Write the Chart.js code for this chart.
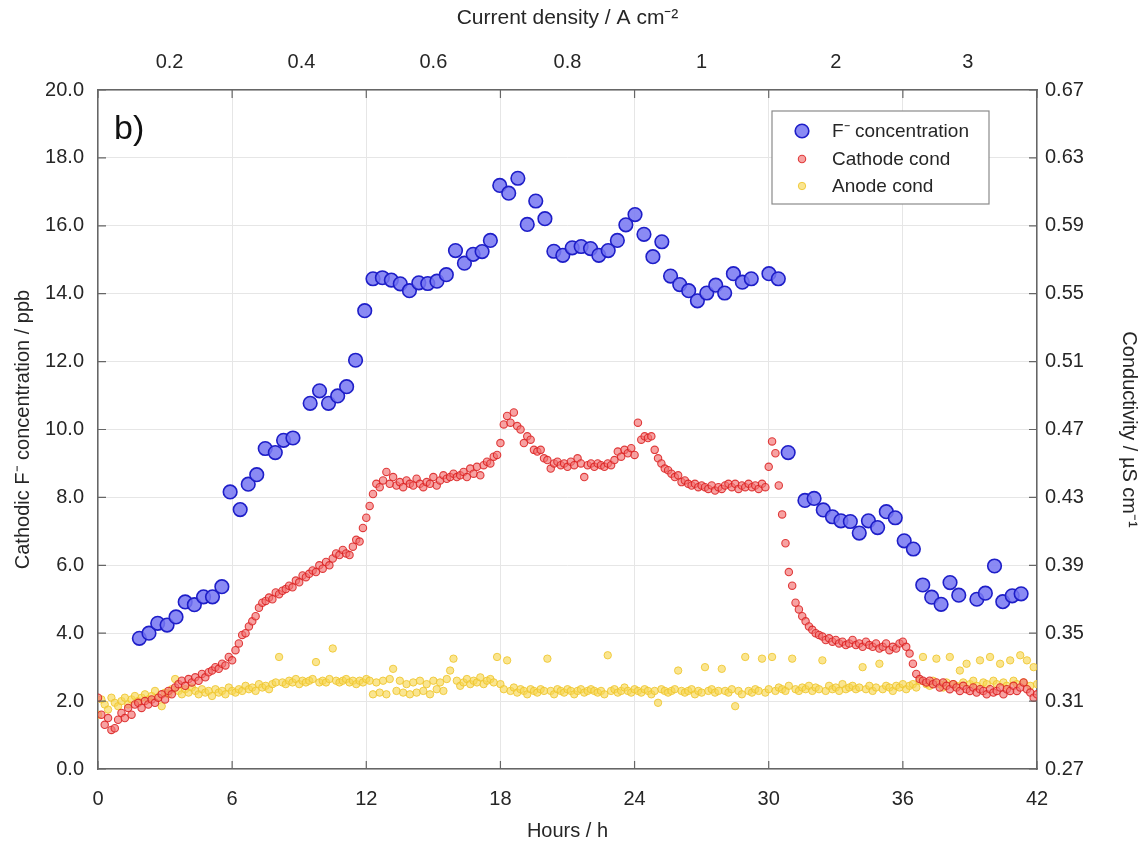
<!DOCTYPE html>
<html>
<head>
<meta charset="utf-8">
<script src="https://cdn.jsdelivr.net/npm/chart.js@4.4.1/dist/chart.umd.min.js"></script>
<style>
  html, body { margin: 0; padding: 0; background: #fff; }
  #wrap { width: 1145px; height: 847px; }
</style>
</head>
<body>
<div id="wrap"><canvas id="chart"></canvas></div>
<script>
// F- concentration (ppb)
const fluorideHours = [1.85, 2.28, 2.67, 3.09, 3.49, 3.9, 4.31, 4.72, 5.12, 5.54, 5.91, 6.36, 6.72, 7.1,
  7.48, 7.93, 8.3, 8.72, 9.49, 9.91, 10.31, 10.72, 11.12, 11.52, 11.93, 12.3, 12.72, 13.12, 13.52,
  13.93, 14.35, 14.75, 15.16, 15.58, 15.99, 16.39, 16.78, 17.18, 17.55, 17.97, 18.37, 18.78, 19.2,
  19.58, 19.99, 20.39, 20.79, 21.21, 21.61, 22.03, 22.4, 22.82, 23.23, 23.61, 24.02, 24.42, 24.82,
  25.22, 25.61, 26.02, 26.42, 26.81, 27.23, 27.63, 28.03, 28.42, 28.82, 29.22, 30.01, 30.43, 30.87,
  31.62, 32.03, 32.44, 32.85, 33.23, 33.65, 34.05, 34.46, 34.87, 35.26, 35.66, 36.06, 36.47, 36.89,
  37.29, 37.71, 38.11, 38.5, 39.31, 39.69, 40.1, 40.47, 40.89, 41.29];
const fluorideValues = [3.85, 4.0, 4.29, 4.24, 4.48, 4.92, 4.84, 5.07, 5.07, 5.37, 8.16, 7.64, 8.39, 8.67,
  9.44, 9.32, 9.68, 9.75, 10.77, 11.14, 10.77, 10.99, 11.26, 12.04, 13.5, 14.44, 14.47, 14.4, 14.29,
  14.09, 14.32, 14.3, 14.37, 14.56, 15.27, 14.9, 15.16, 15.24, 15.57, 17.19, 16.96, 17.4, 16.04,
  16.73, 16.21, 15.25, 15.13, 15.35, 15.39, 15.33, 15.13, 15.27, 15.57, 16.03, 16.33, 15.75, 15.09,
  15.53, 14.52, 14.27, 14.09, 13.79, 14.02, 14.25, 14.02, 14.59, 14.34, 14.44, 14.59, 14.44, 9.32,
  7.91, 7.97, 7.63, 7.43, 7.31, 7.29, 6.95, 7.31, 7.11, 7.58, 7.4, 6.72, 6.48, 5.42,
  5.06, 4.85, 5.49, 5.12, 5.0, 5.18, 5.98, 4.93, 5.1, 5.16];

// conductivity logger, one reading every 0.15 h from t = 0 (µS/cm)
const condStartHour = 0;
const condStepHours = 0.15;
const cathodeCond = [0.312, 0.302, 0.296, 0.300, 0.293, 0.294, 0.299, 0.303, 0.300, 0.306, 0.302, 0.308, 0.309, 0.306,
  0.310, 0.308, 0.311, 0.309, 0.312, 0.314, 0.311, 0.316, 0.314, 0.318, 0.320, 0.322, 0.319, 0.323, 0.321,
  0.324, 0.322, 0.326, 0.324, 0.327, 0.328, 0.330, 0.329, 0.332, 0.331, 0.336, 0.334, 0.340, 0.344, 0.349,
  0.350, 0.354, 0.357, 0.360, 0.365, 0.368, 0.369, 0.371, 0.370, 0.374, 0.373, 0.375, 0.376, 0.378, 0.377,
  0.381, 0.380, 0.384, 0.383, 0.385, 0.387, 0.386, 0.390, 0.388, 0.392, 0.390, 0.394, 0.397, 0.396, 0.399,
  0.397, 0.396, 0.401, 0.405, 0.404, 0.412, 0.418, 0.425, 0.432, 0.438, 0.436, 0.440, 0.445, 0.438, 0.442,
  0.437, 0.439, 0.436, 0.440, 0.438, 0.437, 0.441, 0.438, 0.436, 0.439, 0.438, 0.442, 0.437, 0.440, 0.443,
  0.441, 0.442, 0.444, 0.442, 0.443, 0.445, 0.442, 0.447, 0.444, 0.448, 0.443, 0.449, 0.451, 0.450, 0.454,
  0.455, 0.462, 0.473, 0.478, 0.474, 0.480, 0.472, 0.470, 0.462, 0.466, 0.464, 0.458, 0.457, 0.458, 0.453,
  0.452, 0.447, 0.450, 0.451, 0.449, 0.450, 0.448, 0.451, 0.449, 0.453, 0.450, 0.442, 0.449, 0.450, 0.448,
  0.450, 0.449, 0.448, 0.450, 0.449, 0.452, 0.457, 0.454, 0.458, 0.456, 0.459, 0.455, 0.474, 0.464, 0.466,
  0.465, 0.466, 0.458, 0.453, 0.450, 0.447, 0.446, 0.444, 0.442, 0.443, 0.439, 0.440, 0.438, 0.437, 0.438,
  0.436, 0.437, 0.436, 0.435, 0.437, 0.434, 0.436, 0.435, 0.437, 0.438, 0.436, 0.438, 0.435, 0.437, 0.436,
  0.438, 0.436, 0.437, 0.435, 0.438, 0.436, 0.448, 0.463, 0.456, 0.437, 0.420, 0.403, 0.386, 0.378, 0.368,
  0.364, 0.360, 0.357, 0.354, 0.352, 0.350, 0.349, 0.348, 0.346, 0.347, 0.345, 0.346, 0.344, 0.345, 0.343,
  0.344, 0.346, 0.343, 0.344, 0.342, 0.345, 0.343, 0.342, 0.344, 0.341, 0.342, 0.344, 0.340, 0.342, 0.341,
  0.344, 0.345, 0.342, 0.338, 0.332, 0.326, 0.323, 0.322, 0.321, 0.322, 0.320, 0.321, 0.318, 0.321, 0.319,
  0.317, 0.320, 0.318, 0.316, 0.319, 0.317, 0.316, 0.318, 0.315, 0.317, 0.316, 0.314, 0.317, 0.315, 0.316,
  0.318, 0.314, 0.317, 0.316, 0.319, 0.316, 0.318, 0.321, 0.317, 0.315, 0.312, 0.314];
const anodeCond = [0.302, 0.311, 0.308, 0.305, 0.312, 0.309, 0.307, 0.310, 0.312, 0.308, 0.311, 0.313, 0.310, 0.312,
  0.314, 0.311, 0.313, 0.316, 0.312, 0.307, 0.315, 0.314, 0.317, 0.323, 0.316, 0.314, 0.317,
  0.315, 0.318, 0.316, 0.314, 0.317, 0.315, 0.316, 0.313, 0.317, 0.315, 0.316, 0.314, 0.318, 0.316,
  0.315, 0.317, 0.316, 0.319, 0.317, 0.318, 0.316, 0.320, 0.318, 0.319, 0.317, 0.320, 0.321,
  0.336, 0.321, 0.320, 0.322, 0.321, 0.323, 0.320, 0.322, 0.321, 0.322, 0.323, 0.333, 0.321,
  0.322, 0.321, 0.323, 0.341, 0.322, 0.321, 0.322, 0.323, 0.321, 0.322, 0.320, 0.322, 0.321, 0.323,
  0.322, 0.314, 0.321, 0.315, 0.322, 0.314, 0.323, 0.329, 0.316, 0.322, 0.315, 0.320, 0.314,
  0.321, 0.315, 0.322, 0.316, 0.320, 0.314, 0.322, 0.317, 0.321, 0.316, 0.323, 0.328, 0.335,
  0.322, 0.319, 0.321, 0.323, 0.320, 0.322, 0.321, 0.324, 0.320, 0.322, 0.323, 0.321, 0.336, 0.320,
  0.317, 0.334, 0.316, 0.318, 0.315, 0.317, 0.316, 0.314, 0.317, 0.316, 0.315, 0.317, 0.316,
  0.335, 0.316, 0.314, 0.317, 0.316, 0.315, 0.317, 0.316, 0.314, 0.316, 0.317, 0.315, 0.316,
  0.317, 0.316, 0.315, 0.316, 0.314, 0.337, 0.316, 0.317, 0.315, 0.316, 0.318, 0.316, 0.315, 0.317,
  0.316, 0.315, 0.317, 0.316, 0.314, 0.316, 0.309, 0.317, 0.316, 0.315, 0.316, 0.317, 0.328,
  0.316, 0.315, 0.316, 0.317, 0.314, 0.316, 0.315, 0.330, 0.316, 0.317, 0.315, 0.316, 0.329,
  0.316, 0.315, 0.317, 0.307, 0.316, 0.314, 0.336, 0.316, 0.315, 0.317, 0.316, 0.335, 0.315, 0.317,
  0.336, 0.316, 0.318, 0.317, 0.316, 0.319, 0.335, 0.317, 0.316, 0.318, 0.317, 0.319, 0.316,
  0.318, 0.317, 0.334, 0.316, 0.319, 0.317, 0.318, 0.316, 0.320, 0.317, 0.318, 0.319, 0.317,
  0.318, 0.330, 0.317, 0.319, 0.316, 0.318, 0.332, 0.317, 0.319, 0.318, 0.316, 0.319, 0.318, 0.320,
  0.317, 0.319, 0.320, 0.318, 0.322, 0.336, 0.320, 0.319, 0.322, 0.335, 0.320, 0.318, 0.321,
  0.336, 0.320, 0.319, 0.328, 0.321, 0.332, 0.320, 0.322, 0.319, 0.334, 0.321, 0.320, 0.336,
  0.322, 0.320, 0.332, 0.321, 0.319, 0.334, 0.322, 0.320, 0.337, 0.321, 0.334, 0.319, 0.330, 0.320];

// axis ticks
const hourTicks = [0, 6, 12, 18, 24, 30, 36, 42];
const ppbTicks = [0, 2, 4, 6, 8, 10, 12, 14, 16, 18, 20];
const condTicks = [0.27, 0.31, 0.35, 0.39, 0.43, 0.47, 0.51, 0.55, 0.59, 0.63, 0.67];
const densityTickHours = [3.2, 9.1, 15.0, 21.0, 27.0, 33.0, 38.9];
const densityTickLabels = ['0.2', '0.4', '0.6', '0.8', '1', '2', '3'];

function condPoints(values) {
  return values.map((v, i) => ({ x: condStartHour + i * condStepHours, y: v }));
}

const FONT = 'Liberation Sans, Arial, sans-serif';
const TXT = '#262626';
const GRID = '#e6e6e6';
const AXIS = '#666';

const blueStyle = { fill: 'rgba(118,118,242,0.85)', line: '#1e1ec8', r: 6.8, bw: 1.6 };
const redStyle = { fill: 'rgba(242,112,112,0.65)', line: 'rgba(218,32,32,0.85)', r: 3.7, bw: 1.1 };
const yellowStyle = { fill: 'rgba(247,215,85,0.65)', line: 'rgba(238,198,45,0.85)', r: 3.7, bw: 1.0 };

// short inward tick marks on all four sides of the box
const innerTicks = {
  id: 'innerTicks',
  afterDatasetsDraw(chart) {
    const { ctx, chartArea: a, scales } = chart;
    ctx.save();
    ctx.strokeStyle = AXIS;
    ctx.lineWidth = 1.2;
    ctx.beginPath();
    ppbTicks.forEach(v => {
      const y = scales.y.getPixelForValue(v);
      ctx.moveTo(a.left, y); ctx.lineTo(a.left + 8, y);
      ctx.moveTo(a.right, y); ctx.lineTo(a.right - 8, y);
    });
    hourTicks.forEach(v => {
      const x = scales.x.getPixelForValue(v);
      ctx.moveTo(x, a.bottom); ctx.lineTo(x, a.bottom - 8);
      ctx.moveTo(x, a.top); ctx.lineTo(x, a.top + 8);
    });
    ctx.stroke();
    ctx.restore();
  }
};

// legend box and panel label inside the plot
const overlay = {
  id: 'overlay',
  afterDraw(chart) {
    const ctx = chart.ctx;
    ctx.save();
    ctx.fillStyle = '#111';
    ctx.font = '34px ' + FONT;
    ctx.textBaseline = 'alphabetic';
    ctx.fillText('b)', 114, 139);

    const bx = 772, by = 111, bw = 217, bh = 93;
    ctx.fillStyle = '#fff';
    ctx.fillRect(bx, by, bw, bh);
    ctx.strokeStyle = '#8a8a8a';
    ctx.lineWidth = 1.2;
    ctx.strokeRect(bx, by, bw, bh);

    const items = [
      ['F\u207B concentration', blueStyle, 131],
      ['Cathode cond', redStyle, 159],
      ['Anode cond', yellowStyle, 186]
    ];
    ctx.font = '19px ' + FONT;
    ctx.textBaseline = 'middle';
    items.forEach(([label, st, y]) => {
      ctx.beginPath();
      ctx.arc(802, y, st.r, 0, Math.PI * 2);
      ctx.fillStyle = st.fill;
      ctx.fill();
      ctx.lineWidth = st.bw;
      ctx.strokeStyle = st.line;
      ctx.stroke();
      ctx.fillStyle = TXT;
      ctx.fillText(label, 832, y + 1);
    });
    ctx.restore();
  }
};

function fixTicks(list) {
  return scale => { scale.ticks = list.map(v => ({ value: v })); };
}

new Chart(document.getElementById('chart'), {
  type: 'scatter',
  data: {
    datasets: [
      {
        label: 'F\u207B concentration',
        data: fluorideHours.map((h, i) => ({ x: h, y: fluorideValues[i] })),
        yAxisID: 'y',
        backgroundColor: blueStyle.fill,
        borderColor: blueStyle.line,
        borderWidth: blueStyle.bw,
        pointRadius: blueStyle.r
      },
      {
        label: 'Cathode cond',
        data: condPoints(cathodeCond),
        yAxisID: 'y1',
        backgroundColor: redStyle.fill,
        borderColor: redStyle.line,
        borderWidth: redStyle.bw,
        pointRadius: redStyle.r
      },
      {
        label: 'Anode cond',
        data: condPoints(anodeCond),
        yAxisID: 'y1',
        backgroundColor: yellowStyle.fill,
        borderColor: yellowStyle.line,
        borderWidth: yellowStyle.bw,
        pointRadius: yellowStyle.r
      }
    ]
  },
  options: {
    responsive: true,
    maintainAspectRatio: false,
    animation: false,
    layout: { padding: 0 },
    plugins: { legend: { display: false }, tooltip: { enabled: false } },
    scales: {
      x: {
        type: 'linear', position: 'bottom', min: 0, max: 42,
        afterBuildTicks: fixTicks(hourTicks),
        afterFit: s => { s.height = 78; },
        grid: { color: GRID, drawTicks: false },
        border: { color: AXIS, width: 1.5 },
        ticks: { color: TXT, font: { family: FONT, size: 20 }, padding: 18, maxRotation: 0 },
        title: { display: true, text: 'Hours / h', color: TXT, font: { family: FONT, size: 20 }, padding: { top: 0 } }
      },
      x2: {
        type: 'linear', position: 'top', min: 0, max: 42,
        afterBuildTicks: fixTicks(densityTickHours),
        afterFit: s => { s.height = 90; },
        grid: { drawOnChartArea: false, drawTicks: false },
        border: { color: AXIS, width: 1.5 },
        ticks: {
          color: TXT, font: { family: FONT, size: 20 }, padding: 16, maxRotation: 0,
          callback: (v, i) => densityTickLabels[i]
        },
        title: { display: true, text: 'Current density / A cm\u207B\u00B2', color: TXT, font: { family: FONT, size: 21 }, padding: { top: 6, bottom: 12 } }
      },
      y: {
        type: 'linear', position: 'left', min: 0, max: 20,
        afterBuildTicks: fixTicks(ppbTicks),
        afterFit: s => { s.width = 98; },
        grid: { color: GRID, drawTicks: false },
        border: { color: AXIS, width: 1.5 },
        ticks: { color: TXT, font: { family: FONT, size: 20 }, padding: 14, callback: v => v.toFixed(1) },
        title: { display: true, text: 'Cathodic F\u207B concentration / ppb', color: TXT, font: { family: FONT, size: 20 }, padding: { top: 11, bottom: 0 } }
      },
      y1: {
        type: 'linear', position: 'right', min: 0.27, max: 0.67,
        afterBuildTicks: fixTicks(condTicks),
        afterFit: s => { s.width = 108; },
        grid: { drawOnChartArea: false, drawTicks: false },
        border: { color: AXIS, width: 1.5 },
        ticks: { color: TXT, font: { family: FONT, size: 20 }, padding: 8, callback: v => v.toFixed(2) },
        title: { display: true, text: 'Conductivity / \u00B5S cm\u207B\u00B9', color: TXT, font: { family: FONT, size: 20 }, padding: { top: 4, bottom: 6 } }
      }
    }
  },
  plugins: [innerTicks, overlay]
});
</script>
</body>
</html>
